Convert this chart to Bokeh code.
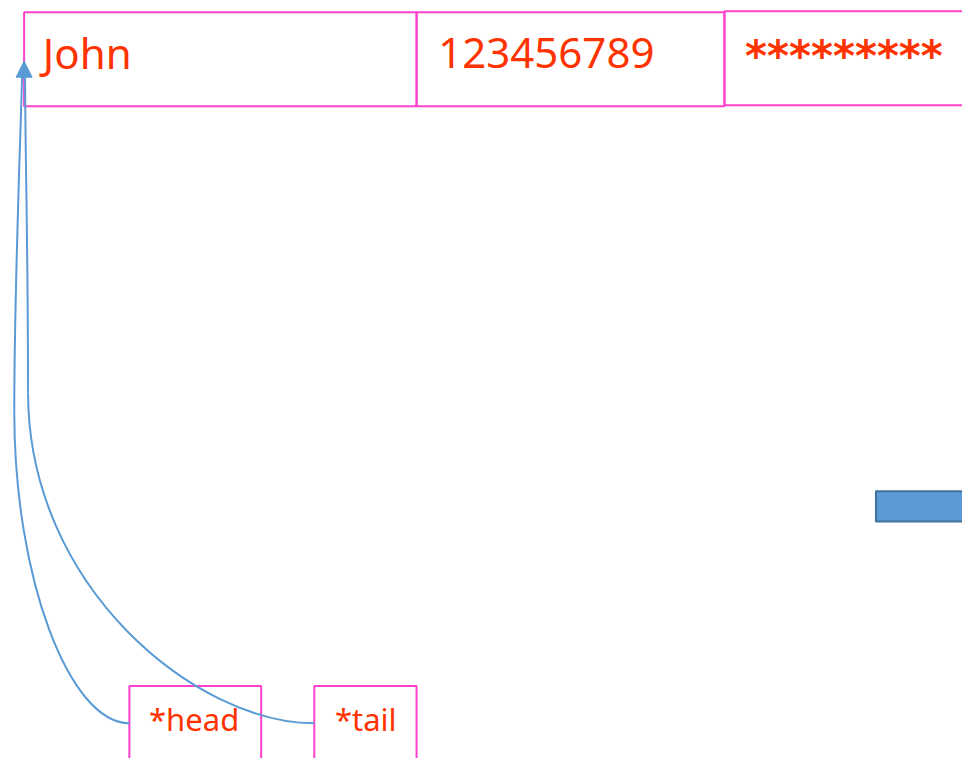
from bokeh.plotting import figure
from bokeh.models import Range1d, Arrow, NormalHead
from bokeh.core.properties import value
from bokeh.embed import file_html
from bokeh.resources import INLINE

# Record fields (top row)
field_labels = ["John", "123456789"]
mask_label = ["*********"]
field_left = [24, 423, 736]
field_right = [423, 736, 1000]
field_top = [12, 12, 11]
field_bottom = [108, 108, 107]
field_text_x = [43, 445]
mask_text_x = [757]

# Pointer boxes (bottom row)
ptr_labels = ["*head", "*tail"]
ptr_left = [131, 319]
ptr_right = [265, 423]
ptr_top = [700, 700]
ptr_bottom = [800, 800]
ptr_text_x = [151, 340]

PINK = "#FF40CC"
RED = "#FF3300"
BLUE = "#5B9BD5"

# text baseline correction (svg text sits ~0.45em below requested baseline)
BIG = 42
SMALL = 31
top_baseline = 72 - 0.45 * BIG
bot_baseline = 748 - 0.45 * SMALL

p = figure(width=962, height=758, output_backend="svg", toolbar_location=None,
           x_range=Range1d(0, 978), y_range=Range1d(774, 0),
           min_border=0, min_border_left=0, min_border_right=0,
           min_border_top=0, min_border_bottom=0)
p.axis.visible = False
p.grid.visible = False
p.outline_line_color = None
p.background_fill_color = "white"
p.border_fill_color = "white"

# blue block at right
p.quad(left=[890], right=[1000], top=[501], bottom=[532],
       fill_color=BLUE, line_color="#41719C", line_width=2)

# boxes
p.quad(left=field_left, right=field_right, top=field_top, bottom=field_bottom,
       fill_color=None, line_color=PINK, line_width=2)
p.quad(left=ptr_left, right=ptr_right, top=ptr_top, bottom=ptr_bottom,
       fill_color=None, line_color=PINK, line_width=2)

# connectors (head and tail to John)
p.bezier(x0=[131, 14], y0=[738, 420], x1=[14, 22], y1=[420, 76],
         cx0=[70, 14], cy0=[738, 300], cx1=[14, 20], cy1=[590, 150],
         line_color=BLUE, line_width=2)
p.bezier(x0=[319, 28], y0=[738, 400], x1=[28, 25], y1=[400, 76],
         cx0=[200, 28], cy0=[738, 250], cx1=[28, 25], cy1=[600, 150],
         line_color=BLUE, line_width=2)
p.add_layout(Arrow(end=NormalHead(size=16, fill_color=BLUE, line_color=BLUE),
                   x_start=24, y_start=80, x_end=24, y_end=62,
                   line_color=BLUE, line_width=2))

# texts
p.text(x=field_text_x, y=[top_baseline] * 2, text=field_labels,
       text_font=value("Noto Sans"), text_font_size=f"{BIG}px",
       text_color=RED, text_baseline="alphabetic", text_align="left")
p.text(x=mask_text_x, y=[top_baseline + 4], text=mask_label,
       text_font=value("DejaVu Sans"), text_font_size=f"{BIG}px",
       text_font_style="bold",
       text_color=RED, text_baseline="alphabetic", text_align="left")
p.text(x=ptr_text_x, y=[bot_baseline] * 2, text=ptr_labels,
       text_font=value("Noto Sans"), text_font_size=f"{SMALL}px",
       text_color=RED, text_baseline="alphabetic", text_align="left")

open("out.html", "w").write(file_html(p, INLINE))
